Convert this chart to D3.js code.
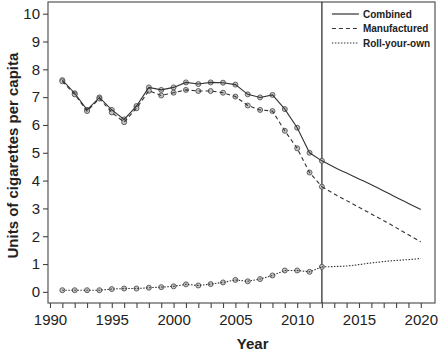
<!DOCTYPE html>
<html>
<head>
<meta charset="utf-8">
<script src="https://cdn.jsdelivr.net/npm/d3@7"></script>
<style>
  body { margin: 0; background: #fff; }
  svg { display: block; font-family: "Liberation Sans", Arial, sans-serif; }
</style>
</head>
<body>
<svg id="chart"></svg>
<script>
// observed years 1991-2012, projection 2012-2020
const years = d3.range(1991, 2013);
const combined = [7.61, 7.14, 6.54, 6.99, 6.54, 6.20, 6.68, 7.35, 7.26, 7.35, 7.53,
  7.47, 7.53, 7.52, 7.45, 7.10, 6.99, 7.08, 6.57, 5.90, 5.00, 4.71];
const manufactured = [7.57, 7.10, 6.50, 6.95, 6.45, 6.10, 6.60, 7.23, 7.06, 7.16, 7.26,
  7.22, 7.22, 7.16, 7.02, 6.70, 6.54, 6.50, 5.79, 5.16, 4.29, 3.78];
const rollYourOwn = [0.06, 0.06, 0.06, 0.06, 0.10, 0.12, 0.12, 0.15, 0.17, 0.20, 0.27,
  0.23, 0.28, 0.34, 0.43, 0.38, 0.46, 0.59, 0.77, 0.77, 0.72, 0.90];

const projYears = d3.range(2012, 2021);
const combinedProj = [4.71, 4.48, 4.27, 4.06, 3.85, 3.63, 3.40, 3.18, 2.96];
const manufacturedProj = [3.78, 3.52, 3.28, 3.04, 2.80, 2.56, 2.31, 2.05, 1.80];
const rollYourOwnProj = [0.90, 0.91, 0.93, 0.98, 1.04, 1.09, 1.13, 1.16, 1.20];

const xTicks = [1990, 1995, 2000, 2005, 2010, 2015, 2020];
const yTicks = [0, 1, 2, 3, 4, 5, 6, 7, 8, 9, 10];
const seriesNames = ["Combined", "Manufactured", "Roll-your-own"];
const dashes = [null, "4,3", "1.5,1.5"];

const width = 440, height = 352;
const margin = {top: 2, right: 5, bottom: 49, left: 48};
const plotW = width - margin.left - margin.right;
const plotH = height - margin.top - margin.bottom;

const svg = d3.select("#chart").attr("width", width).attr("height", height);
const g = svg.append("g").attr("transform", `translate(${margin.left},${margin.top})`);

const x = d3.scaleLinear().domain([1989.84, 2021.15]).range([0, plotW]);
const y = d3.scaleLinear().domain([-0.4, 10.42]).range([plotH, 0]);

// frame
g.append("rect")
  .attr("width", plotW).attr("height", plotH)
  .attr("fill", "none").attr("stroke", "#555").attr("stroke-width", 1.2);

// x axis: ticks every year, labels every 5
const xAxis = g.append("g").attr("transform", `translate(0,${plotH})`)
  .call(d3.axisBottom(x).tickValues(d3.range(1990, 2021)).tickSize(5)
    .tickFormat(d => xTicks.includes(d) ? d : ""));
const yAxis = g.append("g")
  .call(d3.axisLeft(y).tickValues(yTicks).tickSize(5).tickPadding(3));

[xAxis, yAxis].forEach(a => {
  a.select(".domain").remove();
  a.selectAll("line").attr("stroke", "#444").attr("stroke-width", 1.1);
  a.selectAll("text").attr("fill", "#222").style("font-size", "15px")
    .style("font-family", '"Liberation Sans", Arial, sans-serif');
});
xAxis.selectAll("text").attr("dy", "0.95em");

// vertical line at 2012
g.append("line")
  .attr("x1", x(2012)).attr("x2", x(2012))
  .attr("y1", 0).attr("y2", plotH)
  .attr("stroke", "#222").attr("stroke-width", 1.2);

const line = d3.line().x(d => x(d[0])).y(d => y(d[1]));
const smooth = d3.line().x(d => x(d[0])).y(d => y(d[1])).curve(d3.curveMonotoneX);

const observed = [combined, manufactured, rollYourOwn];
const projected = [combinedProj, manufacturedProj, rollYourOwnProj];

// markers first, lines drawn over them
observed.forEach(vals => {
  g.selectAll(null)
    .data(years.map((yr, j) => [yr, vals[j]]))
    .enter().append("circle")
    .attr("cx", d => x(d[0])).attr("cy", d => y(d[1]))
    .attr("r", 2.5)
    .attr("fill", "#c4c4c4").attr("stroke", "#555").attr("stroke-width", 0.9);
});

observed.forEach((vals, i) => {
  g.append("path")
    .datum(years.map((yr, j) => [yr, vals[j]]))
    .attr("d", line)
    .attr("fill", "none").attr("stroke", "#333").attr("stroke-width", 1.1)
    .attr("stroke-dasharray", dashes[i]);
  g.append("path")
    .datum(projYears.map((yr, j) => [yr, projected[i][j]]))
    .attr("d", smooth)
    .attr("fill", "none").attr("stroke", "#333").attr("stroke-width", 1.1)
    .attr("stroke-dasharray", dashes[i]);
});

// legend
const legend = g.append("g").attr("transform", `translate(${x(2012) + 10},12)`);
seriesNames.forEach((name, i) => {
  const row = legend.append("g").attr("transform", `translate(0,${i * 14.5})`);
  row.append("line")
    .attr("x1", 0).attr("x2", 27).attr("y1", 0).attr("y2", 0)
    .attr("stroke", "#333").attr("stroke-width", 1.2)
    .attr("stroke-dasharray", dashes[i]);
  row.append("text")
    .attr("x", 31).attr("y", 0).attr("dy", "0.35em")
    .style("font-size", "10px").style("font-weight", "bold").attr("fill", "#222")
    .text(name);
});

// axis titles
svg.append("text")
  .attr("x", margin.left + x(2006.4)).attr("y", 349)
  .attr("text-anchor", "middle")
  .style("font-size", "15px").style("font-weight", "bold").attr("fill", "#222")
  .text("Year");

svg.append("text")
  .attr("transform", `translate(18,${margin.top + y(4.9)}) rotate(-90)`)
  .attr("text-anchor", "middle")
  .style("font-size", "15px").style("font-weight", "bold").attr("fill", "#222")
  .text("Units of cigarettes per capita");
</script>
</body>
</html>
